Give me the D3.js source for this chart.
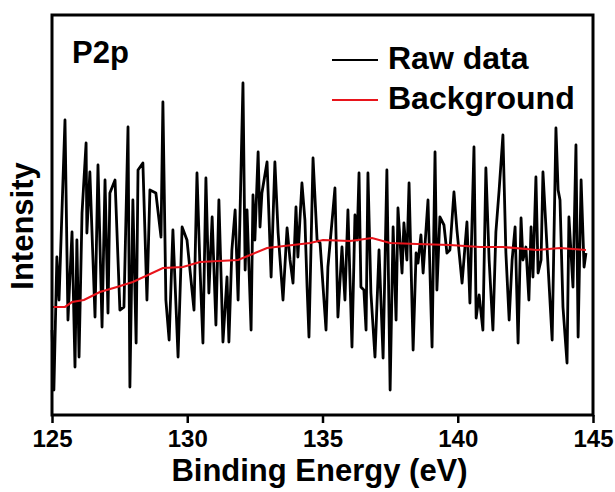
<!DOCTYPE html>
<html>
<head>
<meta charset="utf-8">
<script src="https://cdn.jsdelivr.net/npm/d3@7"></script>
<style>
  html, body { margin: 0; padding: 0; background: #fff; }
  #chart { width: 615px; height: 492px; }
  text { font-family: "Liberation Sans", Arial, sans-serif; font-weight: bold; fill: #000; }
</style>
</head>
<body>
<div id="chart"></div>
<script>
// raw XPS trace, P2p region (binding energy in eV, intensity in a.u.)
const rawEnergy = [
  125.00, 125.07, 125.18, 125.26, 125.37, 125.48, 125.59, 125.74, 125.85, 125.92,
  126.00, 126.11, 126.26, 126.29, 126.40, 126.59, 126.70, 126.85, 126.96, 127.07,
  127.14, 127.33, 127.51, 127.66, 127.81, 127.88, 127.99, 128.11, 128.18, 128.36,
  128.51, 128.62, 128.84, 129.03, 129.10, 129.21, 129.33, 129.47, 129.66, 129.81,
  129.99, 130.25, 130.36, 130.47, 130.58, 130.69, 130.80, 130.92, 131.06, 131.17,
  131.32, 131.47, 131.54, 131.65, 131.77, 131.88, 132.06, 132.14, 132.21, 132.36,
  132.43, 132.50, 132.62, 132.69, 132.76, 132.95, 133.10, 133.24, 133.36, 133.54,
  133.69, 133.80, 133.91, 134.02, 134.09, 134.24, 134.35, 134.43, 134.50, 134.65,
  134.80, 134.91, 135.13, 135.20, 135.39, 135.46, 135.57, 135.72, 135.83, 135.94,
  136.09, 136.20, 136.28, 136.35, 136.42, 136.53, 136.61, 136.68, 136.79, 136.94,
  137.09, 137.24, 137.38, 137.50, 137.61, 137.72, 137.79, 137.94, 138.01, 138.12,
  138.20, 138.35, 138.46, 138.53, 138.64, 138.72, 138.90, 139.05, 139.16, 139.23,
  139.34, 139.49, 139.60, 139.71, 139.86, 139.97, 140.16, 140.34, 140.45, 140.60,
  140.68, 140.79, 140.93, 141.04, 141.16, 141.30, 141.41, 141.53, 141.67, 141.78,
  141.90, 142.01, 142.12, 142.23, 142.34, 142.41, 142.52, 142.63, 142.71, 142.78,
  142.89, 142.97, 143.08, 143.15, 143.30, 143.49, 143.63, 143.71, 143.78, 143.89,
  144.04, 144.11, 144.26, 144.37, 144.45, 144.56, 144.67, 144.74
];
const rawIntensity = [
   85,  25, 158, 115, 205, 295,  95, 183,  48, 175,
   58, 202, 272, 182, 243,  98, 250,  88, 235, 102,
  222, 235, 105, 108, 288,  28, 215,  72, 245, 252,
  115, 225, 222, 178, 313, 115,  75, 185,  58, 188,
  175, 105, 242, 148,  72, 237, 122, 198,  90, 215,
   73, 138,  73, 165, 205, 115, 332, 145, 205,  85,
  220, 175, 263, 188, 222, 253, 138, 253, 182, 115,
  187, 155, 132, 208, 158, 232, 195, 128,  78, 257,
  175, 172,  85, 148, 205, 227,  98, 168, 115, 205,
   68, 200, 175, 242, 128, 125,  85, 242, 122,  58,
  165,  57, 245,  25, 188,  95, 207, 142, 192, 155,
  232,  65, 162, 152, 180, 142, 215,  68, 263, 125,
  198, 190, 162, 165, 223, 185, 132, 193, 112, 268,
   97, 120,  85, 247, 155,  85, 183, 225, 280, 162,
   95, 155, 188,  72, 197, 155, 168, 115, 188, 138,
  238, 142, 155, 243, 168,  75, 287, 225, 215, 108,
   52, 198, 128, 270,  78, 235, 148, 162
];

// fitted background
const bgEnergy = [
  125.00, 125.48, 125.74, 126.18, 126.77, 127.40, 127.99, 129.10, 129.84, 130.47,
  131.88, 132.95, 134.54, 135.02, 136.02, 136.83, 137.50, 138.49, 139.71, 140.82,
  141.67, 142.93, 143.78, 144.74
];
const bgIntensity = [
  108, 108, 113, 115, 123, 128, 133, 147, 148, 153,
  155, 167, 172, 175, 174, 177, 172, 171, 170, 168,
  168, 165, 167, 165
];

const xTicks = [125, 130, 135, 140, 145];
const legendLabels = ["Raw data", "Background"];
const legendColors = ["#000000", "#e8141b"];
const panelLabel = "P2p";

class XpsChart {
  constructor(_config) {
    this.config = {
      parentElement: _config.parentElement,
      width: 615,
      height: 492,
      margin: { top: 15, right: 22, bottom: 77, left: 52 }
    };
    this.initVis();
  }

  initVis() {
    const vis = this;
    const m = vis.config.margin;
    vis.width = vis.config.width - m.left - m.right;
    vis.height = vis.config.height - m.top - m.bottom;

    vis.svg = d3.select(vis.config.parentElement)
      .append("svg")
      .attr("width", vis.config.width)
      .attr("height", vis.config.height);

    vis.chart = vis.svg.append("g")
      .attr("transform", `translate(${m.left},${m.top})`);

    vis.xScale = d3.scaleLinear().domain([125, 145]).range([0, vis.width]);
    vis.yScale = d3.scaleLinear().domain([0, 400]).range([vis.height, 0]);

    vis.updateVis();
  }

  updateVis() {
    const vis = this;

    const raw = rawEnergy.map((e, i) => ({ e, v: rawIntensity[i] }));
    const bg = bgEnergy.map((e, i) => ({ e, v: bgIntensity[i] }));

    const line = d3.line()
      .x((d) => vis.xScale(d.e))
      .y((d) => vis.yScale(d.v));

    vis.chart.append("path")
      .datum(raw)
      .attr("fill", "none")
      .attr("stroke", legendColors[0])
      .attr("stroke-width", 2.8)
      .attr("stroke-linejoin", "round")
      .attr("d", line);

    vis.chart.append("path")
      .datum(bg)
      .attr("fill", "none")
      .attr("stroke", legendColors[1])
      .attr("stroke-width", 2.2)
      .attr("d", line);

    // frame
    vis.chart.append("rect")
      .attr("width", vis.width)
      .attr("height", vis.height)
      .attr("fill", "none")
      .attr("stroke", "#000")
      .attr("stroke-width", 3);

    const xAxis = d3.axisBottom(vis.xScale)
      .tickValues(xTicks)
      .tickFormat(d3.format("d"))
      .tickSize(8)
      .tickPadding(7);

    const gx = vis.chart.append("g")
      .attr("transform", `translate(0,${vis.height})`)
      .call(xAxis);
    gx.select(".domain").remove();
    gx.selectAll(".tick line").attr("stroke", "#000").attr("stroke-width", 2.5);
    gx.selectAll(".tick text")
      .attr("font-size", 24)
      .attr("font-family", "Liberation Sans, Arial, sans-serif")
      .attr("font-weight", "bold")
      .attr("fill", "#000");

    vis.svg.append("text")
      .attr("x", vis.config.margin.left + vis.width / 2 - 3)
      .attr("y", 481)
      .attr("text-anchor", "middle")
      .attr("font-size", 31)
      .text("Binding Energy (eV)");

    vis.svg.append("text")
      .attr("transform", "translate(33,226) rotate(-90)")
      .attr("text-anchor", "middle")
      .attr("font-size", 31)
      .text("Intensity");

    vis.svg.append("text")
      .attr("x", 72)
      .attr("y", 63)
      .attr("font-size", 31)
      .text(panelLabel);

    const legend = vis.svg.append("g").attr("transform", "translate(332,60)");
    legendLabels.forEach((label, i) => {
      const row = legend.append("g").attr("transform", `translate(0,${i * 40})`);
      row.append("line")
        .attr("x1", 0).attr("x2", 46)
        .attr("stroke", legendColors[i])
        .attr("stroke-width", 2);
      row.append("text")
        .attr("x", 56)
        .attr("y", 9)
        .attr("font-size", 32)
        .text(label);
    });
  }
}

new XpsChart({ parentElement: "#chart" });
</script>
</body>
</html>
